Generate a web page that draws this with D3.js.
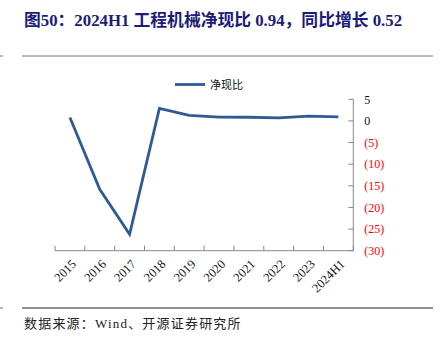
<!DOCTYPE html>
<html><head><meta charset="utf-8">
<script src="https://cdn.jsdelivr.net/npm/d3@7"></script>
<style>body{margin:0;background:#fff}svg{display:block}</style>
</head><body>
<script>
const categories = ["2015","2016","2017","2018","2019","2020","2021","2022","2023","2024H1"];
const values = [0.8,-15.8,-26.2,2.9,1.3,0.9,0.85,0.7,1.1,0.94];
const yTicks = [5,0,-5,-10,-15,-20,-25,-30];
const seriesName = "净现比";
const title = "图50：2024H1 工程机械净现比 0.94，同比增长 0.52";
const source = "数据来源：Wind、开源证券研究所";

const W=446,H=338;
const svg=d3.select("body").append("svg").attr("width",W).attr("height",H);
const serif='"Liberation Serif","Times New Roman","Noto Sans CJK SC",serif';

svg.append("text").attr("x",24).attr("y",26).attr("fill","#1c1c78")
  .attr("font-family",serif).attr("font-weight","bold").attr("font-size",16.8).text(title);
svg.append("line").attr("x1",22).attr("x2",433).attr("y1",56).attr("y2",56).attr("stroke","#777").attr("stroke-width",1);
svg.append("line").attr("x1",0).attr("x2",3).attr("y1",56).attr("y2",56).attr("stroke","#777").attr("stroke-width",1);
svg.append("line").attr("x1",22).attr("x2",433).attr("y1",308).attr("y2",308).attr("stroke","#222").attr("stroke-width",1);
svg.append("line").attr("x1",0).attr("x2",3).attr("y1",308).attr("y2",308).attr("stroke","#777").attr("stroke-width",1);
svg.append("text").attr("x",24).attr("y",328).attr("fill","#222")
  .attr("font-family",serif).attr("font-size",13).attr("letter-spacing",1.2).text(source);

const x=d3.scaleBand().domain(categories).range([55,353.3]);
const y=d3.scaleLinear().domain([-30,5]).range([250.7,99.3]);

// x axis
const gx=svg.append("g").attr("transform","translate(0,250.7)");
gx.append("line").attr("x1",55).attr("x2",353.3).attr("stroke","#888");
const xt=[55,...categories.map(c=>x(c)+x.bandwidth())];
gx.selectAll("line.t").data(xt).enter().append("line").attr("class","t")
  .attr("x1",d=>d).attr("x2",d=>d).attr("y1",0).attr("y2",-5).attr("stroke","#888");
gx.selectAll("text").data(categories).enter().append("text")
  .attr("transform",c=>`translate(${x(c)+x.bandwidth()/2+4},${11}) rotate(-45)`)
  .attr("text-anchor","end").attr("dy","0.35em")
  .attr("font-family",serif).attr("font-size",12.5).attr("fill","#111").text(c=>c);

// y axis
const gy=svg.append("g").attr("transform","translate(353.3,0)");
gy.append("line").attr("y1",y(5)).attr("y2",y(-30)).attr("stroke","#888");
gy.selectAll("line.t").data(yTicks).enter().append("line").attr("class","t")
  .attr("x1",-5).attr("x2",0).attr("y1",d=>y(d)).attr("y2",d=>y(d)).attr("stroke","#888");
gy.selectAll("text").data(yTicks).enter().append("text")
  .attr("x",11).attr("y",d=>y(d)).attr("dy","0.35em")
  .attr("font-family",serif).attr("font-size",12)
  .attr("fill",d=>d<0?"#ff0000":"#111")
  .text(d=>d<0?`(${-d})`:d);

// line
const line=d3.line().x((d,i)=>x(categories[i])+x.bandwidth()/2).y(d=>y(d));
svg.append("path").datum(values).attr("d",line).attr("fill","none")
  .attr("stroke","#2e5b96").attr("stroke-width",2.8).attr("stroke-linejoin","miter");

// legend
svg.append("line").attr("x1",175).attr("x2",205).attr("y1",84.5).attr("y2",84.5)
  .attr("stroke","#2e5b96").attr("stroke-width",2.8);
svg.append("text").attr("x",210).attr("y",85).attr("dy","0.35em")
  .attr("font-family",serif).attr("font-size",11).attr("fill","#111").text(seriesName);
</script>
</body></html>
